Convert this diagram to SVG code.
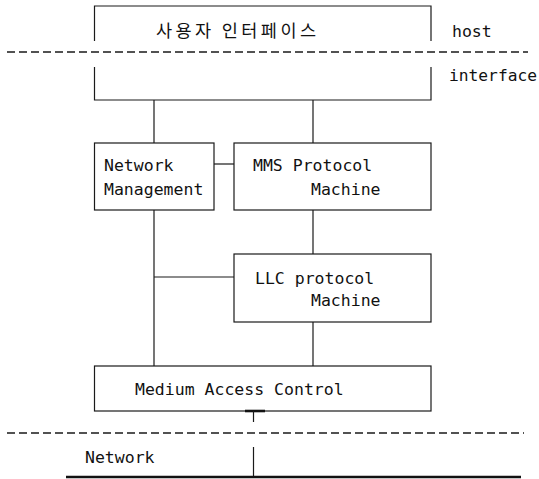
<svg xmlns="http://www.w3.org/2000/svg" width="539" height="479" viewBox="0 0 539 479">
  <style>
    .box { fill: none; stroke: #1a1a1a; stroke-width: 1.2; }
    .wire { fill: none; stroke: #1a1a1a; stroke-width: 1.2; }
    .dash { fill: none; stroke: #1a1a1a; stroke-width: 1.3; stroke-dasharray: 8 4; }
    .bus { fill: none; stroke: #111; stroke-width: 2.6; }
    .lbl { font-family: "DejaVu Sans Mono", "Liberation Mono", monospace; font-size: 16.5px; fill: #111; }
    .kr { font-family: "Noto Sans CJK KR", "Noto Sans", sans-serif; font-size: 17.5px; fill: #111; }
  </style>
  <rect width="539" height="479" fill="#ffffff"/>

  <!-- layer boundaries -->
  <line class="dash" x1="7" y1="52" x2="528" y2="52"/>
  <line class="dash" x1="7" y1="433" x2="524" y2="433"/>
  <text class="lbl" x="452" y="37">host</text>
  <text class="lbl" x="449" y="81" textLength="88" lengthAdjust="spacingAndGlyphs">interface</text>
  <text class="lbl" x="85" y="463">Network</text>

  <!-- user interface box, split by the host/interface boundary -->
  <g id="user-interface">
    <path class="box" d="M94.5,41 V6 H431 V41 M94.5,67 V100 H431 V67"/>
    <text class="kr" x="156" y="37" textLength="160" lengthAdjust="spacing">사용자 인터페이스</text>
  </g>

  <g id="network-management">
    <rect class="box" x="94.5" y="143" width="119.5" height="67"/>
    <text class="lbl" x="104" y="171">Network</text>
    <text class="lbl" x="104" y="195">Management</text>
  </g>

  <g id="mms-protocol-machine">
    <rect class="box" x="234" y="143" width="197" height="67"/>
    <text class="lbl" x="253" y="171">MMS Protocol</text>
    <text class="lbl" x="311" y="195">Machine</text>
  </g>

  <g id="llc-protocol-machine">
    <rect class="box" x="234" y="254" width="197" height="68"/>
    <text class="lbl" x="255" y="284">LLC protocol</text>
    <text class="lbl" x="311" y="306">Machine</text>
  </g>

  <g id="medium-access-control">
    <rect class="box" x="94.5" y="366" width="336.5" height="45"/>
    <text class="lbl" x="135" y="395">Medium Access Control</text>
  </g>

  <g id="connectors">
    <line class="wire" x1="154" y1="100" x2="154" y2="143"/>
    <line class="wire" x1="313" y1="100" x2="313" y2="143"/>
    <line class="wire" x1="214" y1="164" x2="234" y2="164"/>
    <line class="wire" x1="154" y1="210" x2="154" y2="366"/>
    <line class="wire" x1="154" y1="277" x2="234" y2="277"/>
    <line class="wire" x1="313" y1="210" x2="313" y2="254"/>
    <line class="wire" x1="313" y1="322" x2="313" y2="366"/>
    <!-- attachment to the network bus -->
    <line class="bus" x1="245" y1="411" x2="265" y2="411"/>
    <line class="wire" x1="253.5" y1="411" x2="253.5" y2="422"/>
    <line class="wire" x1="253.5" y1="447" x2="253.5" y2="477"/>
    <line class="bus" x1="66" y1="477" x2="521" y2="477"/>
  </g>
</svg>
